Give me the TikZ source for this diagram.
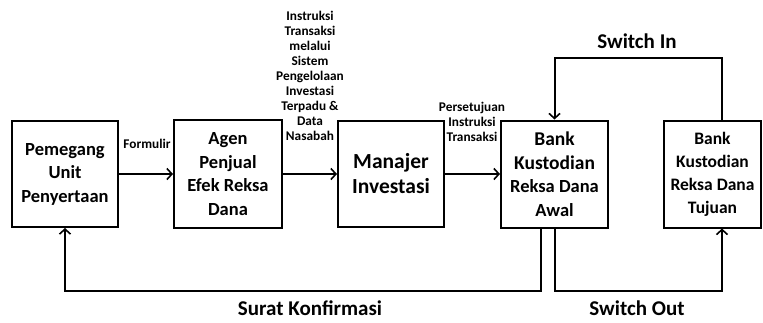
\documentclass[tikz,border=0pt]{standalone}
\usepackage{fontspec}
\setmainfont{Carlito}
\usetikzlibrary{arrows.meta}
\begin{document}
\begin{tikzpicture}[x=1pt,y=-1pt,
  box/.style={draw,line width=2pt,minimum width=106pt,minimum height=106pt,align=center,inner sep=0pt,font=\bfseries\fontsize{18.5}{23.5}\selectfont},
  conn/.style={line width=2pt},
  arr/.style={conn,-{Straight Barb[length=5pt,width=11pt,line width=1.6pt]}},
  lbl/.style={align=center,font=\bfseries\fontsize{13.3}{15}\selectfont,inner sep=0pt},
  biglbl/.style={font=\bfseries\fontsize{21}{24}\selectfont,inner sep=0pt}]
\useasboundingbox (0,0) rectangle (763,322);
\node[box] (b1) at (65,174) {Pemegang\\Unit\\Penyertaan};
\node[box,minimum width=108pt,minimum height=108pt] (b2) at (228,174) {Agen\\Penjual\\Efek Reksa\\Dana};
\node[box,font=\bfseries\fontsize{21.5}{25}\selectfont] (b3) at (391,174) {Manajer\\Investasi};
\node[box,minimum width=107pt,minimum height=107pt] (b4) at (554.5,174) {\fontsize{19.5}{24}\selectfont Bank\\\fontsize{19.5}{24}\selectfont Kustodian\\Reksa Dana\\Awal};
\node[box,minimum width=97pt,minimum height=107pt,font=\bfseries\fontsize{17.5}{23}\selectfont] (b5) at (712.5,174) {Bank\\Kustodian\\Reksa Dana\\Tujuan};
\draw[arr] (b1) -- (b2);
\draw[arr] (b2) -- (b3);
\draw[arr] (b3) -- (b4);
\coordinate (bl) at (65,291);
\coordinate (so) at (722,291);
\coordinate (si) at (554.5,58);
\draw[arr] ([xshift=-13.5pt]b4.south) |- (bl) -- (b1.south);
\draw[arr] (b4.south) |- (so) -- (so |- b5.south);
\draw[arr] (so |- b5.north) |- (si) -- (b4.north);
\node[lbl] (l1) at (147,144) {Formulir};
\node[lbl] (l2) at (310,76) {Instruksi\\Transaksi\\melalui\\Sistem\\Pengelolaan\\Investasi\\Terpadu \&\\Data\\Nasabah};
\node[lbl] (l3) at (472,122) {Persetujuan\\Instruksi\\Transaksi};
\node[biglbl] (l4) at (310,308) {Surat Konfirmasi};
\node[biglbl] (l5) at (637,308) {Switch Out};
\node[biglbl] (l6) at (637,41) {Switch In};
\end{tikzpicture}
\end{document}
